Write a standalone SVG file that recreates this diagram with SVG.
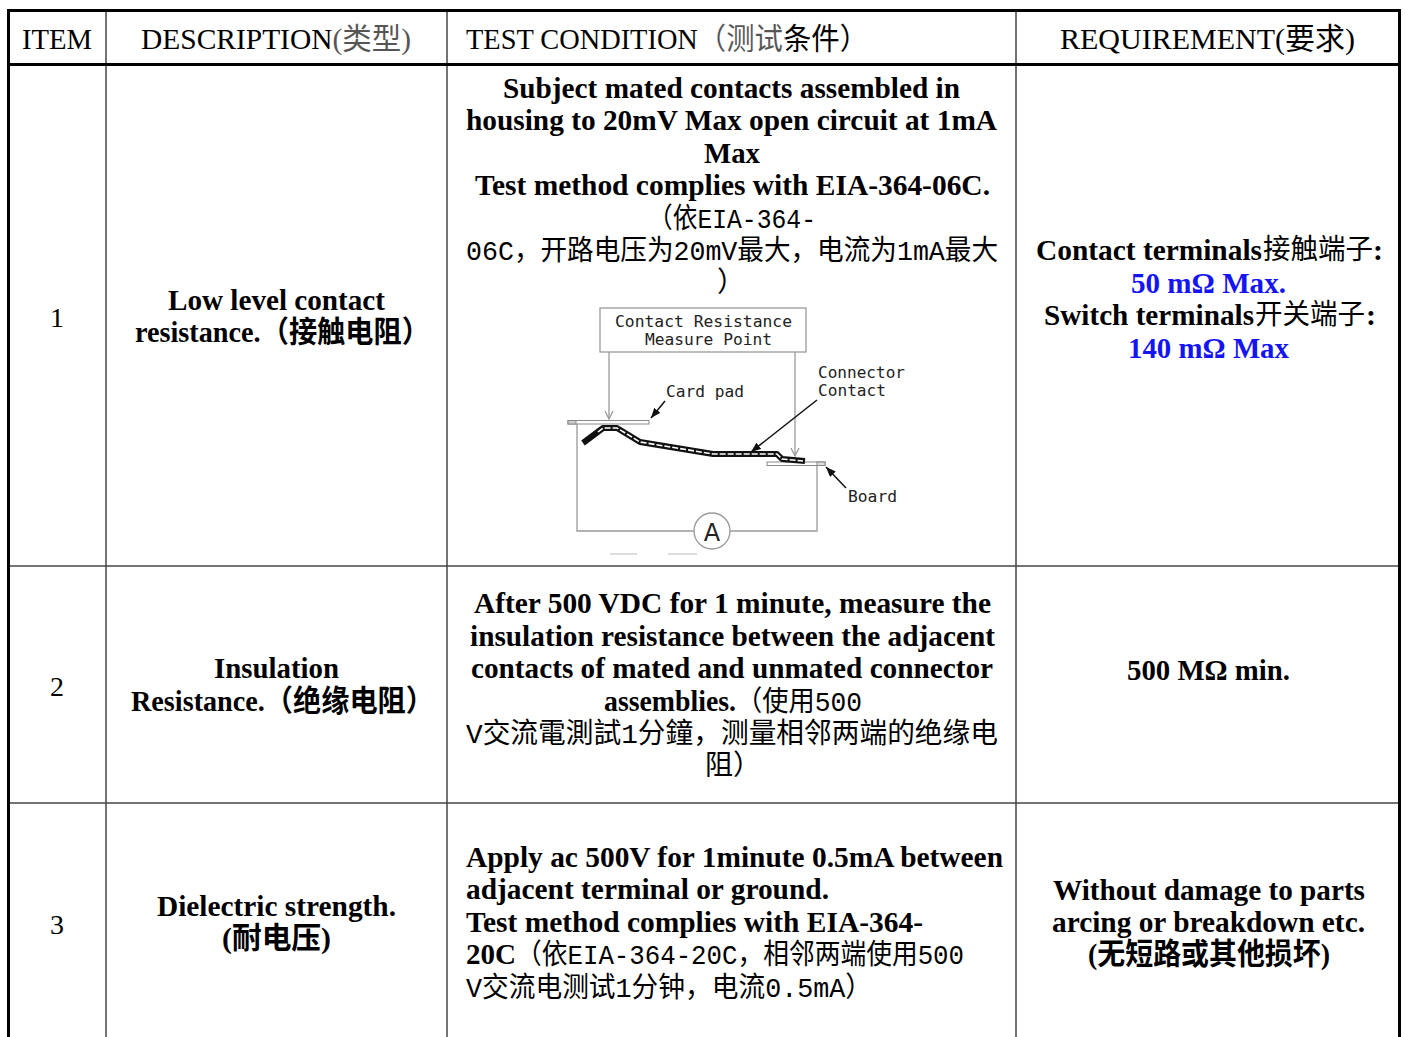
<svg xmlns="http://www.w3.org/2000/svg" width="1406" height="1037" viewBox="0 0 1406 1037">
<style>
.b{font-family:"Liberation Serif","Noto Sans CJK SC",serif;font-weight:bold;font-size:30px;fill:#000}
.r{font-family:"Liberation Serif","Noto Sans CJK SC",serif;font-size:30px;fill:#000}
.n{font-family:"Liberation Serif",serif;font-size:28px;fill:#000}
.cj{font-family:"Liberation Mono","Noto Sans CJK SC",monospace;font-weight:normal;font-size:28px;fill:#000}
.ck{font-family:"Noto Sans CJK SC",sans-serif;font-size:28px;fill:#000}
.m{font-family:"DejaVu Sans Mono",monospace;font-size:16px;fill:#222}
.blue{fill:#1414f5}
.thick{stroke:#000;stroke-width:3;fill:none}
.thin{stroke:#444;stroke-width:1.5;fill:none}
.fig{stroke:#9a9a9a;stroke-width:1.3;fill:none}
.lead{stroke:#111;stroke-width:1.5;fill:none}
</style>
<defs>
<marker id="garrow" markerWidth="12" markerHeight="12" refX="9" refY="5" orient="auto" markerUnits="userSpaceOnUse">
<path d="M1,1 L9,5 L1,9" fill="none" stroke="#9a9a9a" stroke-width="1.3"/>
</marker>
<marker id="barrow" markerWidth="12" markerHeight="10" refX="10" refY="4" orient="auto" markerUnits="userSpaceOnUse">
<path d="M0,0 L10,4 L0,8 Z" fill="#111"/>
</marker>
<linearGradient id="gDesc" gradientUnits="userSpaceOnUse" x1="0" y1="0" x2="1406" y2="0">
<stop offset="0.2347" stop-color="#000"/>
<stop offset="0.2347" stop-color="#555"/>
</linearGradient>
<linearGradient id="gTest" gradientUnits="userSpaceOnUse" x1="0" y1="0" x2="1406" y2="0">
<stop offset="0.4979" stop-color="#000"/>
<stop offset="0.4979" stop-color="#555"/>
<stop offset="0.5590" stop-color="#555"/>
<stop offset="0.5590" stop-color="#000"/>
</linearGradient>
</defs>
<rect width="1406" height="1037" fill="#fff"/>

<g id="grid">
<line class="thin" x1="106" y1="10" x2="106" y2="1037"/>
<line class="thin" x1="447" y1="10" x2="447" y2="1037"/>
<line class="thin" x1="1016" y1="10" x2="1016" y2="1037"/>
<line class="thin" x1="8" y1="566" x2="1400" y2="566"/>
<line class="thin" x1="8" y1="803" x2="1400" y2="803"/>
<line class="thick" x1="8.5" y1="9" x2="8.5" y2="1037"/>
<line class="thick" x1="1399.5" y1="9" x2="1399.5" y2="1037"/>
<line class="thick" x1="7" y1="10.5" x2="1401" y2="10.5"/>
<line class="thick" x1="7" y1="64.5" x2="1401" y2="64.5"/>
</g>

<g id="header">
<text class="r" x="22" y="49" textLength="70" lengthAdjust="spacingAndGlyphs">ITEM</text>
<text class="r" x="141" y="49" textLength="270" lengthAdjust="spacingAndGlyphs" fill="url(#gDesc)" style="fill:url(#gDesc)">DESCRIPTION(类型)</text>
<text class="r" x="466" y="49" textLength="402" lengthAdjust="spacingAndGlyphs" style="fill:url(#gTest)">TEST CONDITION（测试条件）</text>
<text class="r" x="1060" y="49" textLength="295" lengthAdjust="spacingAndGlyphs">REQUIREMENT(要求)</text>
</g>

<g id="row1-item"><text class="n" x="57" y="327" text-anchor="middle">1</text></g>
<g id="row1-desc">
<text class="b" x="168" y="310" textLength="217" lengthAdjust="spacingAndGlyphs">Low level contact</text>
<text class="b" x="135" y="342" textLength="295" lengthAdjust="spacingAndGlyphs">resistance.（接触电阻）</text>
</g>
<g id="row1-cond">
<text class="b" x="503" y="98" textLength="457" lengthAdjust="spacingAndGlyphs">Subject mated contacts assembled in</text>
<text class="b" x="466" y="130" textLength="531" lengthAdjust="spacingAndGlyphs">housing to 20mV Max open circuit at 1mA</text>
<text class="b" x="704" y="163" textLength="56" lengthAdjust="spacingAndGlyphs">Max</text>
<text class="b" x="475" y="195" textLength="515" lengthAdjust="spacingAndGlyphs">Test method complies with EIA-364-06C.</text>
<text class="cj" x="648" y="228" textLength="168" lengthAdjust="spacingAndGlyphs">（依EIA-364-</text>
<text class="cj" x="466" y="260" textLength="532" lengthAdjust="spacingAndGlyphs">06C，开路电压为20mV最大，电流为1mA最大</text>
<text class="cj" x="717" y="292">）</text>
</g>

<g id="row1-figure">
<rect class="fig" x="600" y="308" width="206" height="44"/>
<text class="m" x="615" y="327" textLength="177" lengthAdjust="spacingAndGlyphs">Contact Resistance</text>
<text class="m" x="645" y="345" textLength="127" lengthAdjust="spacingAndGlyphs">Measure Point</text>
<line class="fig" x1="609" y1="352" x2="609" y2="419" marker-end="url(#garrow)"/>
<line class="fig" x1="795" y1="352" x2="795" y2="456" marker-end="url(#garrow)"/>
<rect x="568" y="420.5" width="81" height="3.5" fill="#fff" stroke="#888" stroke-width="1"/>
<rect x="568" y="420.5" width="8" height="3.5" fill="#ccc" stroke="#888" stroke-width="1"/>
<rect x="767" y="462" width="58" height="3.5" fill="#fff" stroke="#888" stroke-width="1"/>
<rect x="817" y="462" width="8" height="3.5" fill="#ddd" stroke="#888" stroke-width="1"/>
<path d="M583,443 L603,428 L617,428 L640,442 L713,454 L777,454 L782,459 L805,461" fill="none" stroke="#111" stroke-width="6" stroke-linejoin="round"/>
<path d="M598,432 L603,428 L617,428 L640,442 L713,454 L777,454 L782,459 L803,461" fill="none" stroke="#fff" stroke-width="1.6" stroke-dasharray="6,2"/>
<text class="m" x="666" y="397" textLength="78" lengthAdjust="spacingAndGlyphs">Card pad</text>
<line class="lead" x1="665" y1="401" x2="651" y2="418" marker-end="url(#barrow)"/>
<text class="m" x="818" y="378" textLength="87" lengthAdjust="spacingAndGlyphs">Connector</text>
<text class="m" x="818" y="396" textLength="68" lengthAdjust="spacingAndGlyphs">Contact</text>
<line class="lead" x1="817" y1="400" x2="751" y2="452" marker-end="url(#barrow)"/>
<text class="m" x="848" y="502" textLength="49" lengthAdjust="spacingAndGlyphs">Board</text>
<line class="lead" x1="846" y1="488" x2="826" y2="467" marker-end="url(#barrow)"/>
<path class="fig" d="M577,424 L577,531 L694,531 M730,531 L817,531 L817,466"/>
<circle class="fig" cx="712" cy="531" r="18"/>
<text x="712" y="541" text-anchor="middle" font-family="DejaVu Sans,sans-serif" font-size="24" fill="#222">A</text>
<line x1="610" y1="554" x2="637" y2="554" stroke="#ddd" stroke-width="2"/>
<line x1="668" y1="554" x2="697" y2="554" stroke="#ddd" stroke-width="2"/>
</g>

<g id="row1-req">
<text class="b" x="1036" y="260" textLength="226" lengthAdjust="spacingAndGlyphs">Contact terminals</text>
<text class="ck" x="1263" y="259" textLength="110" lengthAdjust="spacingAndGlyphs">接触端子</text>
<text class="b" x="1373" y="260">:</text>
<text class="b blue" x="1131" y="293" textLength="155" lengthAdjust="spacingAndGlyphs">50 mΩ Max.</text>
<text class="b" x="1044" y="325" textLength="210" lengthAdjust="spacingAndGlyphs">Switch terminals</text>
<text class="ck" x="1255" y="324" textLength="110" lengthAdjust="spacingAndGlyphs">开关端子</text>
<text class="b" x="1366" y="325">:</text>
<text class="b blue" x="1128" y="358" textLength="161" lengthAdjust="spacingAndGlyphs">140 mΩ Max</text>
</g>

<g id="row2-item"><text class="n" x="57" y="696" text-anchor="middle">2</text></g>
<g id="row2-desc">
<text class="b" x="214" y="678" textLength="125" lengthAdjust="spacingAndGlyphs">Insulation</text>
<text class="b" x="131" y="711" textLength="303" lengthAdjust="spacingAndGlyphs">Resistance.（绝缘电阻）</text>
</g>
<g id="row2-cond">
<text class="b" x="474" y="613" textLength="517" lengthAdjust="spacingAndGlyphs">After 500 VDC for 1 minute, measure the</text>
<text class="b" x="470" y="646" textLength="525" lengthAdjust="spacingAndGlyphs">insulation resistance between the adjacent</text>
<text class="b" x="471" y="678" textLength="522" lengthAdjust="spacingAndGlyphs">contacts of mated and unmated connector</text>
<text class="b" x="604" y="711" textLength="132" lengthAdjust="spacingAndGlyphs">assemblies.</text>
<text class="cj" x="736" y="711" textLength="126" lengthAdjust="spacingAndGlyphs">（使用500</text>
<text class="cj" x="466" y="743" textLength="532" lengthAdjust="spacingAndGlyphs">V交流電測試1分鐘，测量相邻两端的绝缘电</text>
<text class="cj" x="705" y="775" textLength="56" lengthAdjust="spacingAndGlyphs">阻）</text>
</g>
<g id="row2-req">
<text class="b" x="1127" y="680" textLength="163" lengthAdjust="spacingAndGlyphs">500 MΩ min.</text>
</g>

<g id="row3-item"><text class="n" x="57" y="934" text-anchor="middle">3</text></g>
<g id="row3-desc">
<text class="b" x="157" y="916" textLength="239" lengthAdjust="spacingAndGlyphs">Dielectric strength.</text>
<text class="b" x="222" y="948" textLength="109" lengthAdjust="spacingAndGlyphs">(耐电压)</text>
</g>
<g id="row3-cond">
<text class="b" x="466" y="867" textLength="537" lengthAdjust="spacingAndGlyphs">Apply ac 500V for 1minute 0.5mA between</text>
<text class="b" x="466" y="899" textLength="363" lengthAdjust="spacingAndGlyphs">adjacent terminal or ground.</text>
<text class="b" x="466" y="932" textLength="457" lengthAdjust="spacingAndGlyphs">Test method complies with EIA-364-</text>
<text class="b" x="466" y="964" textLength="50" lengthAdjust="spacingAndGlyphs">20C</text>
<text class="cj" x="516" y="964" textLength="448" lengthAdjust="spacingAndGlyphs">（依EIA-364-20C，相邻两端使用500</text>
<text class="cj" x="466" y="997" textLength="406" lengthAdjust="spacingAndGlyphs">V交流电测试1分钟，电流0.5mA）</text>
</g>
<g id="row3-req">
<text class="b" x="1053" y="900" textLength="312" lengthAdjust="spacingAndGlyphs">Without damage to parts</text>
<text class="b" x="1052" y="932" textLength="313" lengthAdjust="spacingAndGlyphs">arcing or breakdown etc.</text>
<text class="b" x="1088" y="964" textLength="242" lengthAdjust="spacingAndGlyphs">(无短路或其他损坏)</text>
</g>
</svg>
